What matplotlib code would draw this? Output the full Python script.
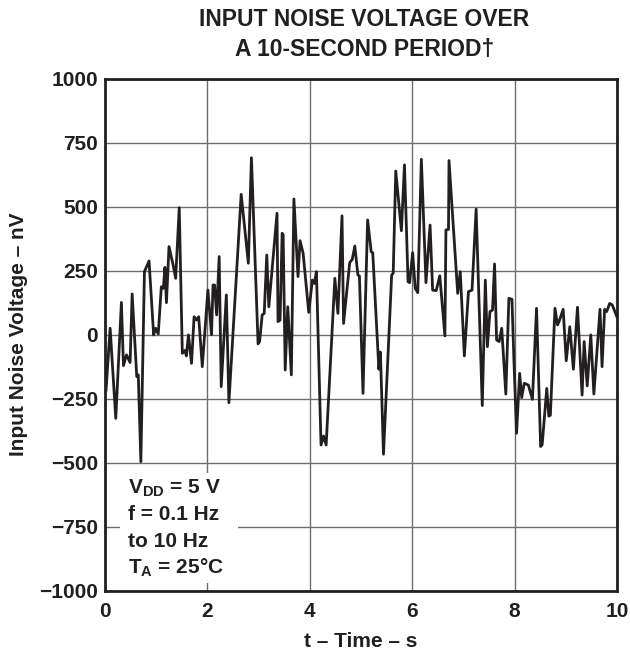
import matplotlib
matplotlib.use("Agg")
import matplotlib.pyplot as plt
from matplotlib.patches import Rectangle

# -----------------------------
# Data
# -----------------------------
time_s = [
    0.02, 0.10, 0.21, 0.32, 0.36, 0.42, 0.49, 0.53, 0.62, 0.65,
    0.70, 0.77, 0.86, 0.95, 0.99, 1.04, 1.10, 1.14, 1.17, 1.20,
    1.25, 1.33, 1.38, 1.45, 1.51, 1.56, 1.59, 1.63, 1.69, 1.74,
    1.79, 1.83, 1.90, 2.01, 2.08, 2.11, 2.14, 2.18, 2.23, 2.27,
    2.37, 2.42, 2.66, 2.80, 2.86, 2.99, 3.02, 3.07, 3.11, 3.16,
    3.20, 3.36, 3.38, 3.42, 3.46, 3.48, 3.52, 3.57, 3.64, 3.69,
    3.77, 3.81, 3.87, 3.98, 4.05, 4.09, 4.13, 4.22, 4.27, 4.32,
    4.49, 4.55, 4.63, 4.66, 4.78, 4.83, 4.88, 4.94, 4.97, 5.04,
    5.13, 5.20, 5.23, 5.35, 5.38, 5.44, 5.60, 5.63, 5.68, 5.79,
    5.85, 5.92, 5.95, 6.01, 6.06, 6.11, 6.18, 6.27, 6.35, 6.40,
    6.47, 6.54, 6.64, 6.66, 6.71, 6.72, 6.89, 6.94, 7.02, 7.10,
    7.17, 7.25, 7.37, 7.43, 7.47, 7.52, 7.57, 7.61, 7.65, 7.70,
    7.75, 7.83, 7.89, 7.95, 7.99, 8.04, 8.10, 8.14, 8.19, 8.27,
    8.35, 8.43, 8.51, 8.54, 8.63, 8.67, 8.70, 8.79, 8.84, 8.87,
    8.95, 9.01, 9.08, 9.15, 9.23, 9.32, 9.36, 9.42, 9.49, 9.55,
    9.67, 9.71, 9.76, 9.80, 9.86, 9.91, 10.0,
]
noise_nv = [
    -216, 25, -327, 126, -121, -79, -109, 159, -164, -157,
    -496, 246, 288, -1, 25, 3, 187, 181, 263, 125,
    344, 272, 220, 496, -73, -62, -83, -1, -112, 70,
    57, 70, -125, 174, 0, 194, 194, 77, 305, -203,
    155, -266, 548, 279, 691, -36, -27, 77, 83, 311,
    109, 474, 51, 57, 396, 390, -138, 109, -157, 530,
    227, 367, 318, 87, 213, 200, 246, -431, -396, -431,
    220, 83, 464, 44, 281, 294, 346, 233, 229, -229,
    448, 324, 320, -135, -68, -467, 233, 240, 639, 406,
    663, 207, 203, 320, 181, 164, 685, 203, 428, 174,
    172, 230, -5, 409, 411, 680, 161, 246, -83, 168,
    174, 490, -277, 213, -47, 90, 96, 276, -21, -27,
    25, -232, 142, 138, -110, -385, -151, -246, -190, -197,
    -253, 103, -437, -430, -210, -318, -315, 103, 38, 51,
    99, -102, 31, -135, 107, -236, -27, -200, -1, -232,
    99, -125, 99, 90, 122, 116, 70,
]

x_ticks = [0, 2, 4, 6, 8, 10]
y_ticks = [-1000, -750, -500, -250, 0, 250, 500, 750, 1000]
y_tick_labels = ["\u22121000", "\u2212750", "\u2212500", "\u2212250",
                 "0", "250", "500", "750", "1000"]

note_lines = ["V$_{\\mathbf{DD}}$ = 5 V", "f = 0.1 Hz", "to 10 Hz",
              "T$_{\\mathbf{A}}$ = 25\u00b0C"]

# -----------------------------
# Style
# -----------------------------
plt.rcParams["font.family"] = ["Liberation Sans", "DejaVu Sans"]
plt.rcParams["font.weight"] = "bold"
plt.rcParams["mathtext.fontset"] = "custom"
plt.rcParams["mathtext.rm"] = "Liberation Sans:bold"
plt.rcParams["mathtext.bf"] = "Liberation Sans:bold"

INK = "#231f20"
FS = 15

fig = plt.figure(figsize=(6.3, 6.54), dpi=100)
ax = fig.add_axes([0.1667, 0.0968, 0.8125, 0.783])

ax.plot(time_s, noise_nv, color=INK, lw=2.0, zorder=3)

ax.set_xlim(0, 10)
ax.set_ylim(-1000, 1000)
ax.set_xticks(x_ticks)
ax.set_xticklabels([str(t) for t in x_ticks])
ax.set_yticks(y_ticks)
ax.set_yticklabels(y_tick_labels)
ax.tick_params(length=0, labelsize=FS, colors=INK)
ax.tick_params(axis="x", pad=8)
ax.tick_params(axis="y", pad=5)
for lab in ax.get_xticklabels() + ax.get_yticklabels():
    lab.set_fontweight("bold")

ax.grid(True, color="#6d6d6d", lw=1.0)
ax.set_axisbelow(True)
for sp in ax.spines.values():
    sp.set_linewidth(2.0)
    sp.set_color(INK)

# white panel behind the conditions note
ax.add_patch(Rectangle((0.29, -970), 2.30, 430, facecolor="white",
                       edgecolor="none", zorder=2))
for i, line in enumerate(note_lines):
    ax.text(0.45, -620 - i * 104, line, fontsize=FS, fontweight="bold",
            color=INK, va="baseline", ha="left", zorder=4)

ax.set_xlabel("t \u2013 Time \u2013 s", fontsize=FS, fontweight="bold",
              color=INK, va="center")
ax.xaxis.set_label_coords(0.5, -0.1)
ax.set_ylabel("Input Noise Voltage \u2013 nV", fontsize=FS,
              fontweight="bold", color=INK, va="center")
ax.yaxis.set_label_coords(-0.17, 0.5)

fig.text(0.578, 0.970, "INPUT NOISE VOLTAGE OVER", ha="center", va="center",
         fontsize=16.5, fontweight="bold", color=INK)
fig.text(0.578, 0.924, "A 10-SECOND PERIOD\u2020", ha="center", va="center",
         fontsize=16.5, fontweight="bold", color=INK)

fig.savefig("out.png", dpi=100)
